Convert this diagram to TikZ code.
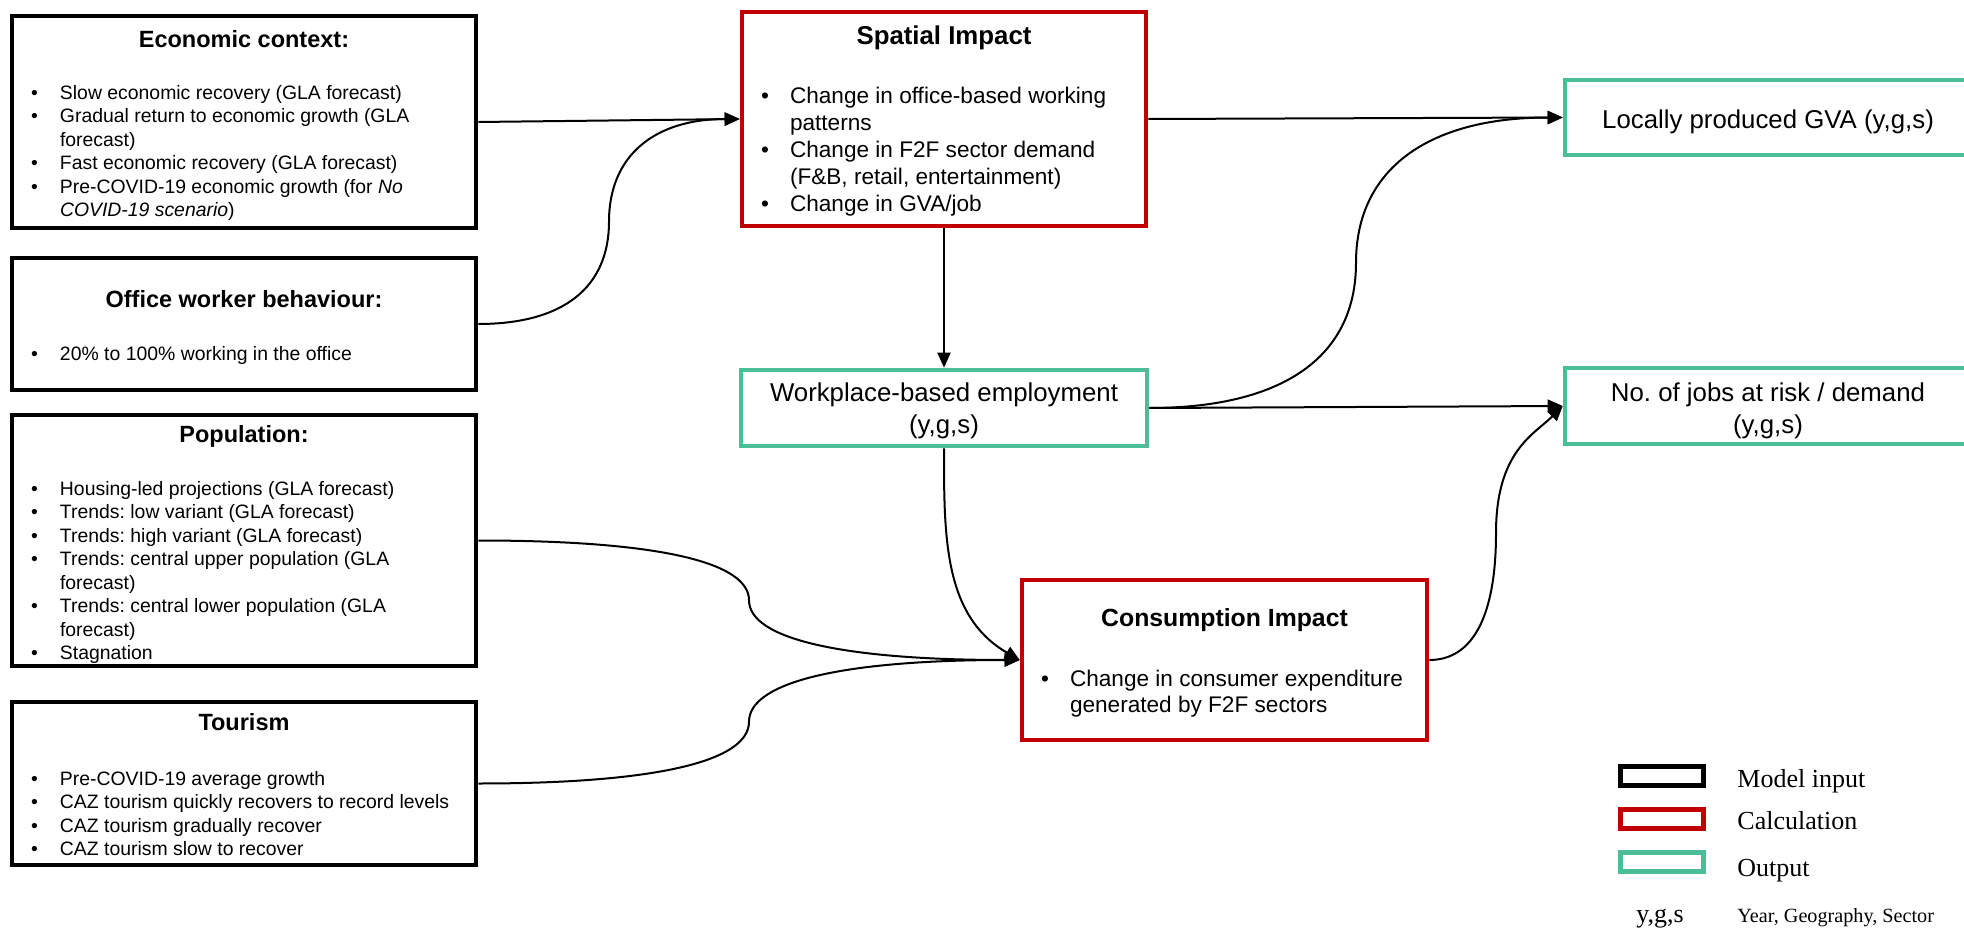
\documentclass[tikz,border=0pt]{standalone}
\usepackage{fontspec}
\setmainfont{Liberation Sans}
\newfontfamily\legendfont{Liberation Serif}
\usetikzlibrary{arrows.meta,calc}
\definecolor{calcred}{RGB}{192,0,0}
\definecolor{outgreen}{RGB}{75,190,152}
\frenchspacing
\newcommand\nl{\hfil\break}
\newcommand\bitem[1]{\par\hangindent=24pt\hangafter=1\noindent\makebox[24pt][l]{\hspace{9.5pt}\textbullet}#1\par}
\newcommand\smallbody{\fontsize{9.7pt}{11.75pt}\selectfont}
\newcommand\midbody{\fontsize{11.3pt}{13.4pt}\selectfont}
\newcommand\boxtitle[2]{{\centering\fontsize{#1}{#1}\selectfont\bfseries #2\par}}
% #1 width, #2 top space, #3 content
\newcommand\lbox[3]{\vbox{\hsize=#1\parindent=0pt\raggedright\vskip#2\relax #3}}
\newcommand\cbox[3]{\vbox{\hsize=#1\parindent=0pt\centering\vskip#2\relax #3\par}}
\begin{document}
\begin{tikzpicture}[x=0.5pt,y=0.5pt,
  box/.style={draw, rectangle, line width=2.3pt, inner sep=0pt},
  inbox/.style={box, draw=black, minimum width=232pt},
  calcbox/.style={box, draw=calcred},
  outbox/.style={box, draw=outgreen, minimum width=203pt, font=\fontsize{12.9pt}{16pt}\selectfont},
  conn/.style={line width=1pt, -{Triangle[length=7.5pt,width=6.5pt]}},
  legbox/.style={draw, rectangle, line width=2.5pt, minimum width=41.5pt, minimum height=9.5pt, inner sep=0pt},
  legtext/.style={anchor=base west, inner sep=0pt, font=\legendfont\fontsize{13pt}{15pt}\selectfont},
  legsmall/.style={inner sep=0pt, font=\legendfont\fontsize{10.1pt}{12pt}\selectfont},
  legsym/.style={inner sep=0pt, font=\legendfont\fontsize{13pt}{15pt}\selectfont}
]
\useasboundingbox (0,0) rectangle (1964,928);
\clip (0,0) rectangle (1964,928);

% Model inputs
\node[inbox, minimum height=106pt] (eco) at (244,806) {\lbox{232pt}{3.8pt}{%
\boxtitle{11.75pt}{Economic context:}\vspace{14pt}\smallbody
\bitem{Slow economic recovery (GLA forecast)}
\bitem{Gradual return to economic growth (GLA\nl forecast)}
\bitem{Fast economic recovery (GLA forecast)}
\bitem{Pre-COVID-19 economic growth (for \textit{No\nl COVID-19 scenario})}}};

\node[inbox, minimum height=66pt] (office) at (244,604) {\lbox{232pt}{3.4pt}{%
\boxtitle{11.75pt}{Office worker behaviour:}\vspace{14.5pt}\smallbody
\bitem{20\% to 100\% working in the office}}};

\node[inbox, minimum height=125.5pt] (pop) at (244,387.5) {\lbox{232pt}{3.8pt}{%
\boxtitle{11.75pt}{Population:}\vspace{14.8pt}\smallbody
\bitem{Housing-led projections (GLA forecast)}
\bitem{Trends: low variant (GLA forecast)}
\bitem{Trends: high variant (GLA forecast)}
\bitem{Trends: central upper population (GLA\nl forecast)}
\bitem{Trends: central lower population (GLA\nl forecast)}
\bitem{Stagnation}}};

\node[inbox, minimum height=81.5pt] (tour) at (244,144.5) {\lbox{232pt}{1.4pt}{%
\boxtitle{11.75pt}{Tourism}\vspace{15.5pt}\smallbody
\bitem{Pre-COVID-19 average growth}
\bitem{CAZ tourism quickly recovers to record levels}
\bitem{CAZ tourism gradually recover}
\bitem{CAZ tourism slow to recover}}};

% Calculations
\node[calcbox, minimum width=202pt, minimum height=107pt] (sp) at (944,809) {\lbox{202pt}{1.6pt}{%
\boxtitle{12.9pt}{Spatial Impact}\vspace{16.5pt}\midbody
\bitem{Change in office-based working\nl patterns}
\bitem{Change in F2F sector demand\nl (F\&B, retail, entertainment)}
\bitem{Change in GVA/job}}};

\node[calcbox, minimum width=202.5pt, minimum height=80pt] (cons) at (1224.5,268) {\lbox{202.5pt}{2.9pt}{%
\boxtitle{12.4pt}{Consumption Impact}\vspace{16.5pt}\midbody
\bitem{Change in consumer expenditure\nl generated by F2F sectors}}};

% Outputs
\node[outbox, minimum height=38pt] (wp) at (944,520) {\cbox{203pt}{3.1pt}{Workplace-based employment\\(y,g,s)}};
\node[outbox, minimum height=37.5pt] (gva) at (1768,810.5) {\cbox{203pt}{4.8pt}{Locally produced GVA (y,g,s)}};
\node[outbox, minimum height=38pt] (jobs) at (1768,522) {\cbox{203pt}{5pt}{No. of jobs at risk / demand\\(y,g,s)}};

% Connectors
\coordinate (m1) at ($(office.east)!0.5!(sp.west)$);
\coordinate (m2) at ($(wp.east)!0.5!(gva.west)$);
\coordinate (m3) at ($(pop.east)!0.5!(cons.west)$);
\coordinate (m4) at ($(tour.east)!0.5!(cons.west)$);
\coordinate (m5) at ($(cons.east)!0.5!(jobs.west)$);

\draw[conn] (eco.east) -- (sp.west);
\draw[conn] (office.east) to[out=0,in=-90,out distance=42.5pt,in distance=33pt] (m1)
  to[out=90,in=180,out distance=33pt,in distance=42.5pt] (sp.west);
\draw[conn] (sp.south) -- (wp.north);
\draw[conn] (sp.east) -- (gva.west);
\draw[conn] (wp.east) to[out=0,in=-90,out distance=67pt,in distance=47pt] (m2)
  to[out=90,in=180,out distance=47pt,in distance=67pt] (gva.west);
\draw[conn] (wp.east) -- (jobs.west);
\draw[conn] (wp.south) to[out=-90,in=150] (cons.west);
\draw[conn] (pop.east) to[out=0,in=90,out distance=88pt,in distance=19.5pt] (m3)
  to[out=-90,in=180,out distance=19.5pt,in distance=88pt] (cons.west);
\draw[conn] (tour.east) to[out=0,in=-90,out distance=88pt,in distance=20pt] (m4)
  to[out=90,in=180,out distance=20pt,in distance=88pt] (cons.west);
\draw[conn] (cons.east) to[out=0,in=-90,out distance=22pt,in distance=41pt] (m5)
  to[out=90,in=225,out distance=41pt,in distance=20pt] (jobs.west);

% Legend
\node[legbox, draw=black] (l1) at (1661.5,152.5) {};
\node[legbox, draw=calcred] (l2) at (1661.5,109) {};
\node[legbox, draw=outgreen] (l3) at (1661.5,66.5) {};
\node[legtext] (t1) at (1737,141) {Model input};
\node[legtext] (t2) at (1737,99) {Calculation};
\node[legtext] (t3) at (1737,52) {Output};
\node[legsym, anchor=base] (t4) at (1660,6) {y,g,s};
\node[legsmall, anchor=base west] (t5) at (1737,6) {Year, Geography, Sector};
\end{tikzpicture}
\end{document}
